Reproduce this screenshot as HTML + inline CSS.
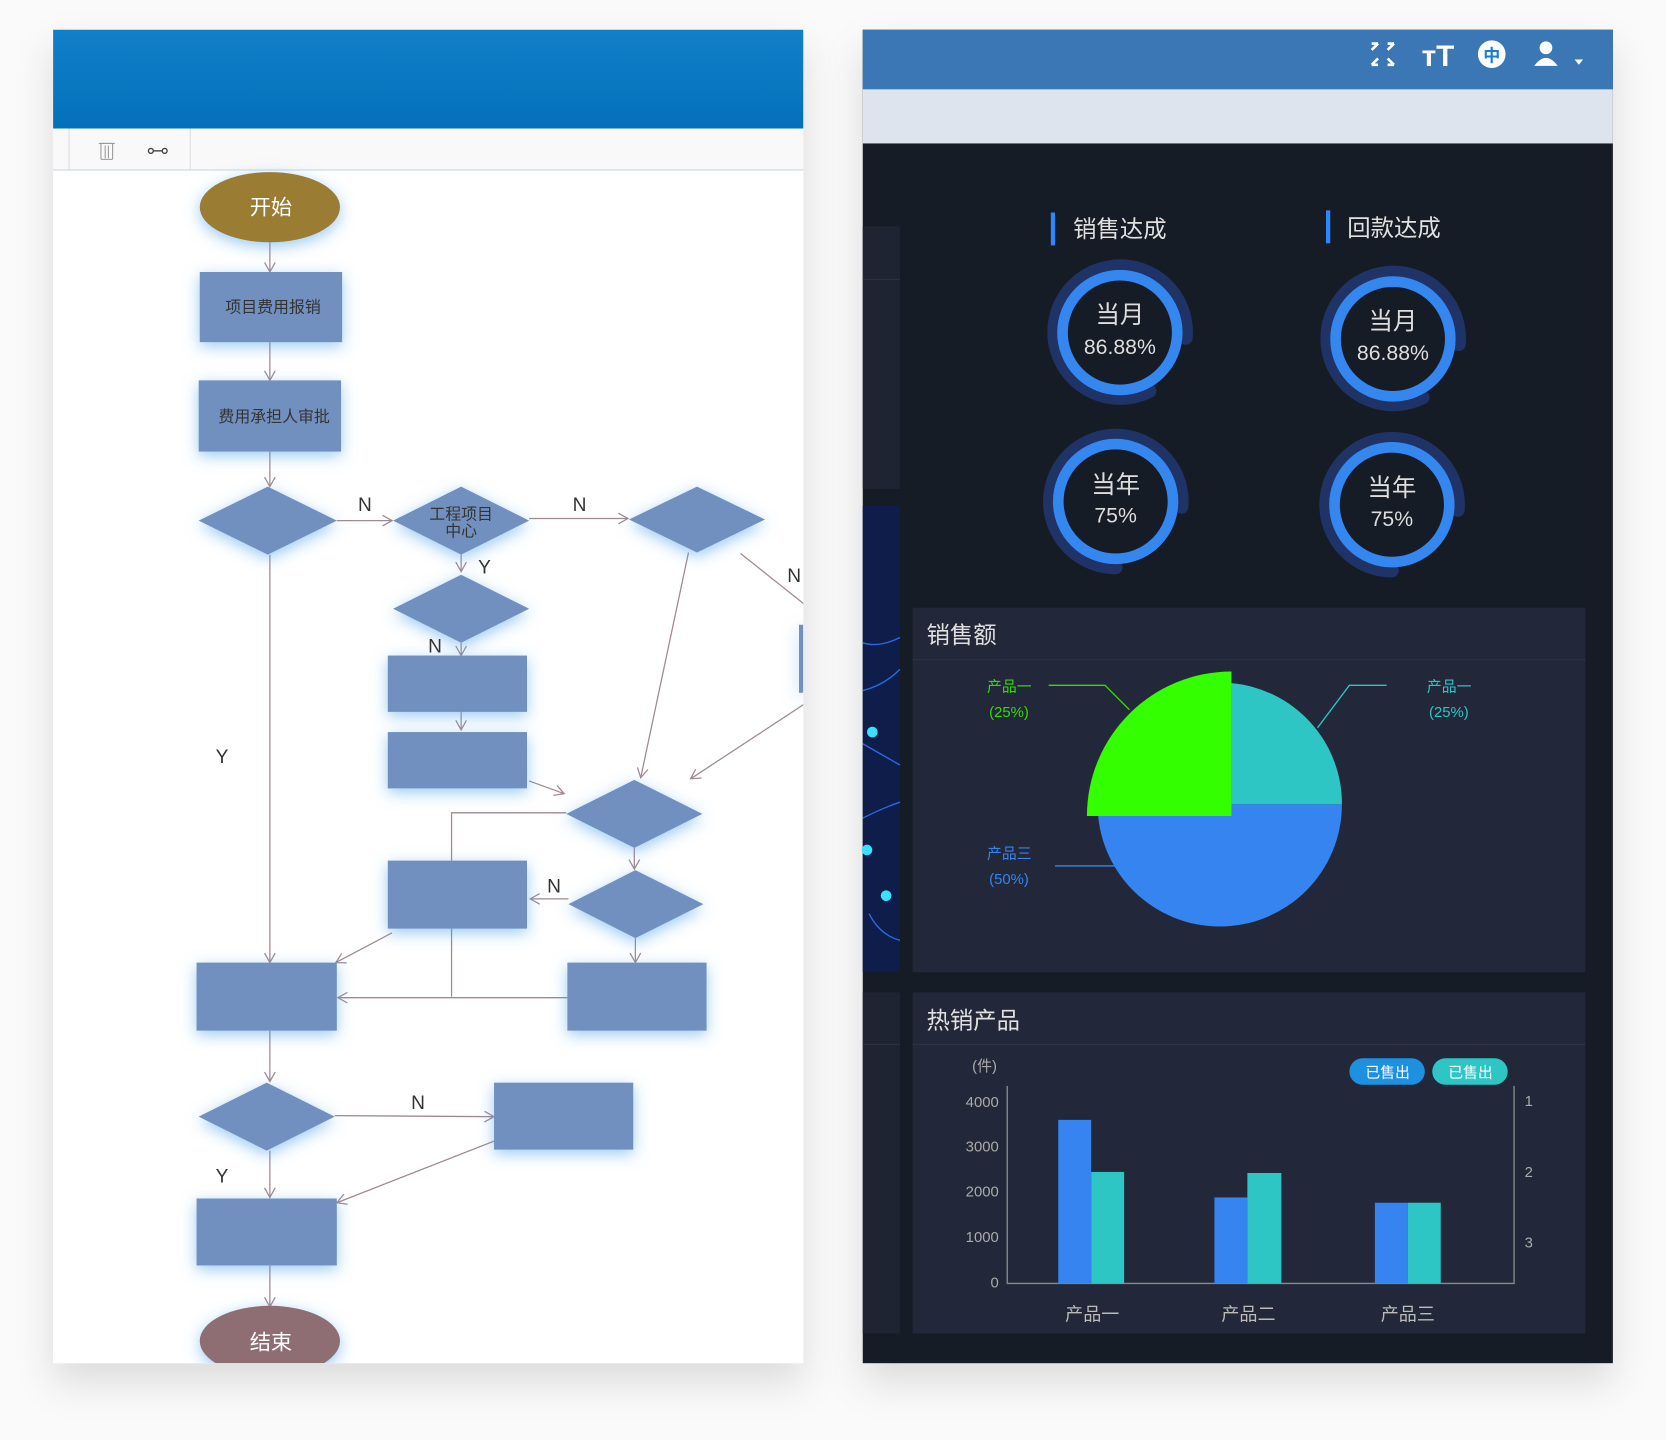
<!DOCTYPE html>
<html><head><meta charset="utf-8"><style>
html,body{margin:0;padding:0;background:#fafafa;}
svg{display:block;font-family:"Liberation Sans","Noto Sans CJK SC",sans-serif;}
</style></head><body>
<svg width="1666" height="1440" viewBox="0 0 1568 1355.3" xmlns="http://www.w3.org/2000/svg">
<defs>
<filter id="sh" x="-10%" y="-10%" width="120%" height="125%"><feDropShadow dx="0" dy="18" stdDeviation="18" flood-color="#000" flood-opacity="0.12"/></filter>
<filter id="gl" x="-30%" y="-30%" width="160%" height="170%"><feDropShadow dx="0" dy="4" stdDeviation="7" flood-color="#4aa0e8" flood-opacity="0.55"/></filter>
<linearGradient id="hg" x1="0" y1="0" x2="0" y2="1"><stop offset="0" stop-color="#1180c8"/><stop offset="1" stop-color="#0470bb"/></linearGradient>
<clipPath id="lp"><rect x="50" y="28" width="706" height="1255"/></clipPath>
<marker id="ar" markerWidth="12" markerHeight="12" refX="10" refY="6" orient="auto" markerUnits="userSpaceOnUse"><path d="M1,1 L10,6 L1,11" fill="none" stroke="#a08a90" stroke-width="1.2"/></marker>
</defs>
<rect width="1568" height="1356" fill="#fafafa"/>
<!-- LEFT PANEL -->
<g filter="url(#sh)"><rect x="50" y="28" width="706" height="1255" fill="#fff"/></g>
<rect x="50" y="28" width="706" height="93" fill="url(#hg)"/>
<rect x="50" y="121" width="706" height="39" fill="#f9f9f9"/>
<line x1="50" y1="160" x2="756" y2="160" stroke="#d8e0ea" stroke-width="1.5"/>
<line x1="65" y1="121" x2="65" y2="160" stroke="#ddd"/><line x1="179" y1="121" x2="179" y2="160" stroke="#ddd"/>
<g stroke="#999" fill="none" stroke-width="1"><rect x="95" y="135" width="11" height="15" rx="1"/><line x1="93" y1="135" x2="108" y2="135"/><line x1="99" y1="137" x2="99" y2="149"/><line x1="102" y1="137" x2="102" y2="149"/></g>
<g stroke="#444" fill="none" stroke-width="1.3"><circle cx="142" cy="142" r="2.3"/><circle cx="155" cy="142" r="2.3"/><line x1="144" y1="142" x2="153" y2="142"/></g>
<g clip-path="url(#lp)">
<g stroke="#a08a90" stroke-width="1.2" fill="none">
<line x1="254" y1="228" x2="254" y2="256" marker-end="url(#ar)"/>
<line x1="254" y1="322" x2="254" y2="358" marker-end="url(#ar)"/>
<line x1="254" y1="425" x2="254" y2="458" marker-end="url(#ar)"/>
<line x1="317" y1="490" x2="369" y2="490" marker-end="url(#ar)"/>
<line x1="498" y1="488" x2="591" y2="488" marker-end="url(#ar)"/>
<line x1="697" y1="521" x2="760" y2="571"/>
<line x1="434" y1="522" x2="434" y2="538" marker-end="url(#ar)"/>
<line x1="434" y1="605" x2="434" y2="617" marker-end="url(#ar)"/>
<line x1="434" y1="670" x2="434" y2="687" marker-end="url(#ar)"/>
<line x1="498" y1="735" x2="531" y2="747" marker-end="url(#ar)"/>
<line x1="648" y1="520" x2="603" y2="732" marker-end="url(#ar)"/>
<line x1="758" y1="662" x2="650" y2="733" marker-end="url(#ar)"/>
<polyline points="533,765 425,765 425,810"/>
<line x1="597" y1="798" x2="597" y2="818" marker-end="url(#ar)"/>
<line x1="535" y1="846" x2="499" y2="846" marker-end="url(#ar)"/>
<line x1="425" y1="874" x2="425" y2="938"/>
<line x1="369" y1="878" x2="316" y2="906" marker-end="url(#ar)"/>
<line x1="598" y1="883" x2="598" y2="906" marker-end="url(#ar)"/>
<line x1="534" y1="939" x2="318" y2="939" marker-end="url(#ar)"/>
<line x1="254" y1="522" x2="254" y2="906" marker-end="url(#ar)"/>
<line x1="254" y1="970" x2="254" y2="1018" marker-end="url(#ar)"/>
<line x1="315" y1="1050" x2="465" y2="1051" marker-end="url(#ar)"/>
<line x1="465" y1="1074" x2="317" y2="1132" marker-end="url(#ar)"/>
<line x1="254" y1="1083" x2="254" y2="1127" marker-end="url(#ar)"/>
<line x1="254" y1="1191" x2="254" y2="1230" marker-end="url(#ar)"/>
</g>
<g fill="#7190bf" filter="url(#gl)">
<ellipse cx="254" cy="195" rx="66" ry="33" fill="#9a7b33"/>
<rect x="188" y="256" width="134" height="66"/>
<rect x="187" y="358" width="134" height="67"/>
<polygon points="187,490 252,458 317,490 252,522"/>
<polygon points="370,490 434,458 498,490 434,522"/>
<polygon points="592,489 656,458 720,489 656,520"/>
<rect x="752" y="588" width="4" height="64"/>
<polygon points="370,573 434,541 498,573 434,605"/>
<rect x="365" y="617" width="131" height="53"/>
<rect x="365" y="689" width="131" height="53"/>
<polygon points="533,766 597,734 661,766 597,798"/>
<polygon points="535,851 598,819 662,851 598,883"/>
<rect x="365" y="810" width="131" height="64"/>
<rect x="185" y="906" width="132" height="64"/>
<rect x="534" y="906" width="131" height="64"/>
<polygon points="187,1051 251,1019 315,1051 251,1083"/>
<rect x="465" y="1019" width="131" height="63"/>
<rect x="185" y="1128" width="132" height="63"/>
<ellipse cx="254" cy="1262" rx="66" ry="33" fill="#8e6e73"/>
</g>
</g>
<g font-size="20" fill="#fff" text-anchor="middle"><text x="255" y="202">开始</text><text x="255" y="1270">结束</text></g>
<g font-size="15" fill="#333" text-anchor="middle"><text x="257" y="294">项目费用报销</text><text x="258" y="397">费用承担人审批</text>
<text x="434" y="489">工程项目</text><text x="434" y="505">中心</text></g>
<g font-size="18" fill="#333"><text x="337" y="481">N</text><text x="539" y="481">N</text><text x="741" y="548">N</text><text x="450" y="540">Y</text><text x="403" y="614">N</text><text x="515" y="840">N</text><text x="203" y="718">Y</text><text x="387" y="1044">N</text><text x="203" y="1113">Y</text></g>
<!-- RIGHT PANEL -->
<g filter="url(#sh)"><rect x="812" y="28" width="706" height="1255" fill="#181e27"/></g>
<rect x="812" y="28" width="706" height="56" fill="#3b77b4"/>
<rect x="812" y="84" width="706" height="51" fill="#dde4ee"/>
<g stroke="#fff" stroke-width="2.5" fill="none"><path d="M1291,47 l6,-6 M1291,41 h6 v0 M1312,41 l-6,6 M1312,41 h-6 M1291,61 l6,-6 M1291,61 h6 M1312,61 l-6,-6 M1312,61 h-6"/></g>
<text x="1338" y="62" font-size="28" fill="#fff" font-weight="bold">тT</text>
<circle cx="1404" cy="51" r="13" fill="#fff"/><text x="1404" y="58" font-size="16" fill="#1a7fd0" text-anchor="middle" font-weight="bold">中</text>
<circle cx="1455" cy="45" r="6" fill="#fff"/><path d="M1444,62 q11,-15 22,0 z" fill="#fff"/><path d="M1482,56 l8,0 l-4,5 z" fill="#fff"/>
<rect x="812" y="213" width="35" height="247" fill="#1f2433"/><line x1="812" y1="263" x2="847" y2="263" stroke="#2b3142"/>
<rect x="812" y="476" width="35" height="439" fill="#0f1d4a"/>
<g stroke="#2a6ae0" fill="none" stroke-width="1.3"><path d="M812,605 q15,5 35,-5 M812,650 q20,-5 35,-20 M812,700 l35,20 M812,770 q20,-10 35,-15 M818,860 q10,20 29,25"/></g>
<g fill="#3be0ff"><circle cx="821" cy="689" r="5"/><circle cx="816" cy="800" r="5"/><circle cx="834" cy="843" r="5"/></g>
<rect x="812" y="934" width="35" height="321" fill="#1f2433"/><line x1="812" y1="983" x2="847" y2="983" stroke="#2b3142"/>
<rect x="989" y="200" width="4" height="31" fill="#2e86ff"/><text x="1010" y="223" font-size="22" fill="#e0e0e0">销售达成</text>
<rect x="1248" y="198" width="4" height="31" fill="#2e86ff"/><text x="1268" y="222" font-size="22" fill="#e0e0e0">回款达成</text>
<g fill="none">
<g transform="translate(1054,313)"><path d="M62,5 A62,62 0 1 0 28,55" stroke="#1f3366" stroke-width="13" stroke-linecap="round"/><circle r="54" stroke="#3587f0" stroke-width="10"/></g>
<g transform="translate(1311,319)"><path d="M62,5 A62,62 0 1 0 28,55" stroke="#1f3366" stroke-width="13" stroke-linecap="round"/><circle r="54" stroke="#3587f0" stroke-width="10"/></g>
<g transform="translate(1050,472)"><path d="M62,5 A62,62 0 1 0 0,62" stroke="#1f3366" stroke-width="13" stroke-linecap="round"/><circle r="54" stroke="#3587f0" stroke-width="10"/></g>
<g transform="translate(1310,475)"><path d="M62,5 A62,62 0 1 0 0,62" stroke="#1f3366" stroke-width="13" stroke-linecap="round"/><circle r="54" stroke="#3587f0" stroke-width="10"/></g>
</g>
<g text-anchor="middle" fill="#ddd"><text x="1054" y="304" font-size="23">当月</text><text x="1054" y="333" font-size="20">86.88%</text>
<text x="1311" y="310" font-size="23">当月</text><text x="1311" y="339" font-size="20">86.88%</text>
<text x="1050" y="464" font-size="23">当年</text><text x="1050" y="492" font-size="20">75%</text>
<text x="1310" y="467" font-size="23">当年</text><text x="1310" y="495" font-size="20">75%</text></g>
<rect x="859" y="572" width="633" height="343" fill="#222839"/><line x1="859" y1="621" x2="1492" y2="621" stroke="#2d3446"/>
<text x="872" y="605" font-size="22" fill="#e0e0e0">销售额</text>
<path d="M1033,757 A115,115 0 0 0 1263,757 Z" fill="#3584ef"/>
<path d="M1159,757 L1159,643 A114,114 0 0 1 1263,757 Z" fill="#2ec5c5"/>
<path d="M1159,768 L1023,768 A136,136 0 0 1 1159,632 Z" fill="#33ff00"/>
<g fill="none" stroke-width="1.2"><polyline points="987,645 1040,645 1063,668" stroke="#33dd00"/><polyline points="1305,645 1270,645 1240,685" stroke="#2ec5c5"/><line x1="993" y1="815" x2="1050" y2="815" stroke="#3584ef"/></g>
<g font-size="14"><text x="929" y="651" fill="#33dd00">产品一</text><text x="931" y="675" fill="#33dd00">(25%)</text>
<text x="1343" y="651" fill="#2ec5c5">产品一</text><text x="1345" y="675" fill="#2ec5c5">(25%)</text>
<text x="929" y="808" fill="#3584ef">产品三</text><text x="931" y="832" fill="#3584ef">(50%)</text></g>
<rect x="859" y="934" width="633" height="321" fill="#222839"/><line x1="859" y1="983" x2="1492" y2="983" stroke="#2d3446"/>
<text x="872" y="968" font-size="22" fill="#e0e0e0">热销产品</text>
<g font-size="14" fill="#aaa"><text x="915" y="1008">(件)</text>
<g text-anchor="end"><text x="940" y="1042">4000</text><text x="940" y="1084">3000</text><text x="940" y="1126">2000</text><text x="940" y="1169">1000</text><text x="940" y="1212">0</text></g>
<text x="1435" y="1041">1</text><text x="1435" y="1108">2</text><text x="1435" y="1174">3</text></g>
<g stroke="#888" stroke-width="1.3" fill="none"><polyline points="948,1022 948,1208 1425,1208 1425,1022"/></g>
<g fill="#3584ef"><rect x="996" y="1054" width="31" height="154"/><rect x="1143" y="1127" width="31" height="81"/><rect x="1294" y="1132" width="31" height="76"/></g>
<g fill="#2ec5c5"><rect x="1027" y="1103" width="31" height="105"/><rect x="1174" y="1104" width="32" height="104"/><rect x="1325" y="1132" width="31" height="76"/></g>
<g font-size="17" fill="#bbb" text-anchor="middle"><text x="1028" y="1243">产品一</text><text x="1175" y="1243">产品二</text><text x="1325" y="1243">产品三</text></g>
<rect x="1270" y="996" width="71" height="25" rx="12.5" fill="#1e90e0"/><rect x="1348" y="996" width="71" height="25" rx="12.5" fill="#2ec5c5"/>
<g font-size="14" fill="#fff" text-anchor="middle"><text x="1306" y="1014">已售出</text><text x="1384" y="1014">已售出</text></g>
</svg>
</body></html>
